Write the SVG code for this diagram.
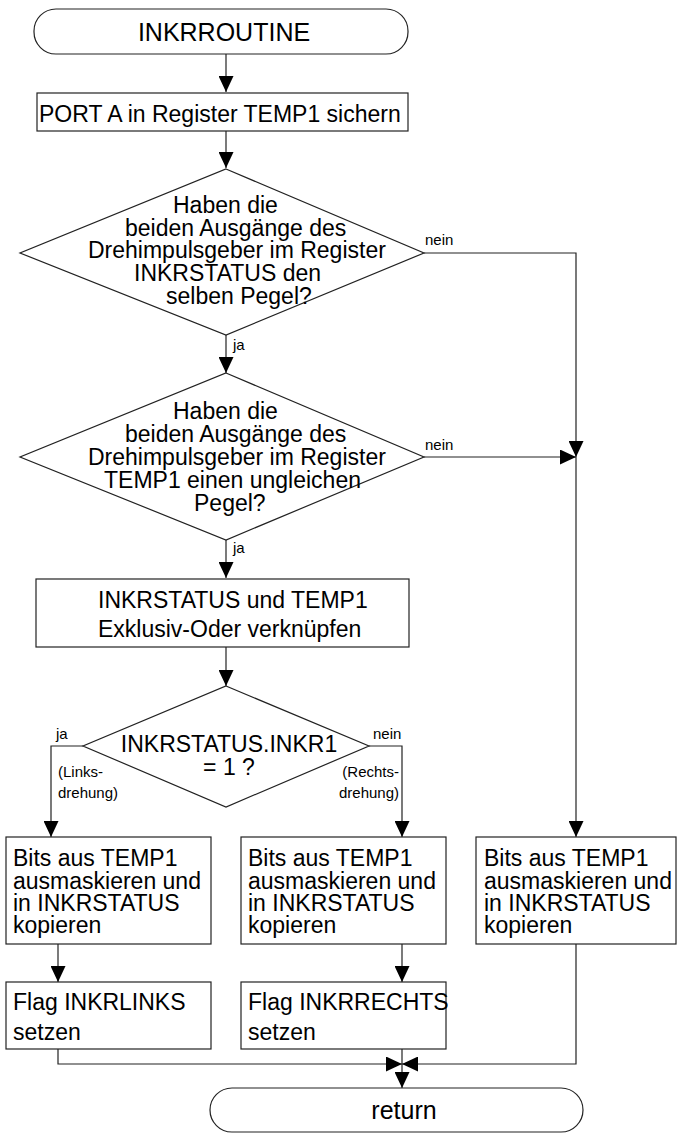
<svg xmlns="http://www.w3.org/2000/svg" width="677" height="1133" viewBox="0 0 677 1133">
<style>
.s{fill:#fff;stroke:#222;stroke-width:1.2}
.c{fill:none;stroke:#222;stroke-width:1.2}
text{font-family:"Liberation Sans",Arial,sans-serif;fill:#000}
.t{font-size:23px}
.big{font-size:25px}
.l{font-size:15px}
.m{text-anchor:middle}
.e{text-anchor:end}
</style>
<defs>
<marker id="a" markerUnits="userSpaceOnUse" markerWidth="16" markerHeight="15" refX="16" refY="7.5" orient="auto">
<path d="M0,0 L16,7.5 L0,15 z" fill="#000"/>
</marker>
</defs>
<rect width="677" height="1133" fill="#fff"/>
<g id="connectors">
<path class="c" d="M226,54 V92" marker-end="url(#a)"/>
<path class="c" d="M226,131 V168" marker-end="url(#a)"/>
<path class="c" d="M424,253 H576 V457" marker-end="url(#a)"/>
<path class="c" d="M226,335 V373" marker-end="url(#a)"/>
<path class="c" d="M424,457 H576" marker-end="url(#a)"/>
<path class="c" d="M576,457 V837" marker-end="url(#a)"/>
<path class="c" d="M226,540 V578" marker-end="url(#a)"/>
<path class="c" d="M226,647 V686" marker-end="url(#a)"/>
<path class="c" d="M83,746 H51 V837" marker-end="url(#a)"/>
<path class="c" d="M369,746 H402 V837" marker-end="url(#a)"/>
<path class="c" d="M58,944 V982" marker-end="url(#a)"/>
<path class="c" d="M402,944 V982" marker-end="url(#a)"/>
<path class="c" d="M58,1049 V1064 H402" marker-end="url(#a)"/>
<path class="c" d="M576,944 V1064 H402" marker-end="url(#a)"/>
<path class="c" d="M402,1049 V1088" marker-end="url(#a)"/>
<text class="l" x="425" y="245">nein</text>
<text class="l" x="233" y="350">ja</text>
<text class="l" x="425" y="450">nein</text>
<text class="l" x="233" y="553">ja</text>
<text class="l" x="56" y="739">ja</text>
<text class="l" x="58" y="777">(Links-</text>
<text class="l" x="58" y="798">drehung)</text>
<text class="l" x="373" y="739">nein</text>
<text class="l e" x="399" y="777">(Rechts-</text>
<text class="l e" x="399" y="798">drehung)</text>
</g>
<g id="start">
<rect class="s" x="34" y="9" width="374" height="45" rx="22" ry="22"/>
<text class="big m" x="224" y="41">INKRROUTINE</text>
</g>
<g id="save">
<rect class="s" x="37" y="93" width="371" height="38"/>
<text class="t" x="39" y="122">PORT A in Register TEMP1 sichern</text>
</g>
<g id="dec1">
<polygon class="s" points="226,169 424,253 226,335 20,253"/>
<text class="t" x="173" y="213">Haben die</text>
<text class="t" x="125" y="236">beiden Ausgänge des</text>
<text class="t" x="88" y="258">Drehimpulsgeber im Register</text>
<text class="t" x="134" y="281">INKRSTATUS den</text>
<text class="t" x="166" y="304">selben Pegel?</text>
</g>
<g id="dec2">
<polygon class="s" points="226,373 424,457 226,540 20,457"/>
<text class="t" x="173" y="419">Haben die</text>
<text class="t" x="125" y="442">beiden Ausgänge des</text>
<text class="t" x="88" y="465">Drehimpulsgeber im Register</text>
<text class="t" x="104" y="488">TEMP1 einen ungleichen</text>
<text class="t" x="194" y="511">Pegel?</text>
</g>
<g id="xor">
<rect class="s" x="36" y="579" width="373" height="68"/>
<text class="t" x="98" y="608">INKRSTATUS und TEMP1</text>
<text class="t" x="98" y="637">Exklusiv-Oder verknüpfen</text>
</g>
<g id="dec3">
<polygon class="s" points="226,686 369,746 226,807 83,746"/>
<text class="t m" x="229" y="752">INKRSTATUS.INKR1</text>
<text class="t m" x="229" y="775">= 1 ?</text>
</g>
<g id="maskL">
<rect class="s" x="6" y="837" width="205" height="107"/>
<text class="t" x="13" y="866">Bits aus TEMP1</text>
<text class="t" x="13" y="889">ausmaskieren und</text>
<text class="t" x="13" y="911">in INKRSTATUS</text>
<text class="t" x="13" y="933">kopieren</text>
</g>
<g id="maskM">
<rect class="s" x="241" y="837" width="205" height="107"/>
<text class="t" x="248" y="866">Bits aus TEMP1</text>
<text class="t" x="248" y="889">ausmaskieren und</text>
<text class="t" x="248" y="911">in INKRSTATUS</text>
<text class="t" x="248" y="933">kopieren</text>
</g>
<g id="maskR">
<rect class="s" x="476" y="837" width="200" height="107"/>
<text class="t" x="484" y="866">Bits aus TEMP1</text>
<text class="t" x="484" y="889">ausmaskieren und</text>
<text class="t" x="484" y="911">in INKRSTATUS</text>
<text class="t" x="484" y="933">kopieren</text>
</g>
<g id="flagL">
<rect class="s" x="6" y="982" width="205" height="67"/>
<text class="t" x="13" y="1010">Flag INKRLINKS</text>
<text class="t" x="13" y="1040">setzen</text>
</g>
<g id="flagR">
<rect class="s" x="241" y="982" width="205" height="67"/>
<text class="t" x="248" y="1010">Flag INKRRECHTS</text>
<text class="t" x="248" y="1040">setzen</text>
</g>
<g id="return">
<rect class="s" x="210" y="1088" width="373" height="44" rx="22" ry="22"/>
<text class="big m" x="404" y="1119">return</text>
</g>
</svg>
